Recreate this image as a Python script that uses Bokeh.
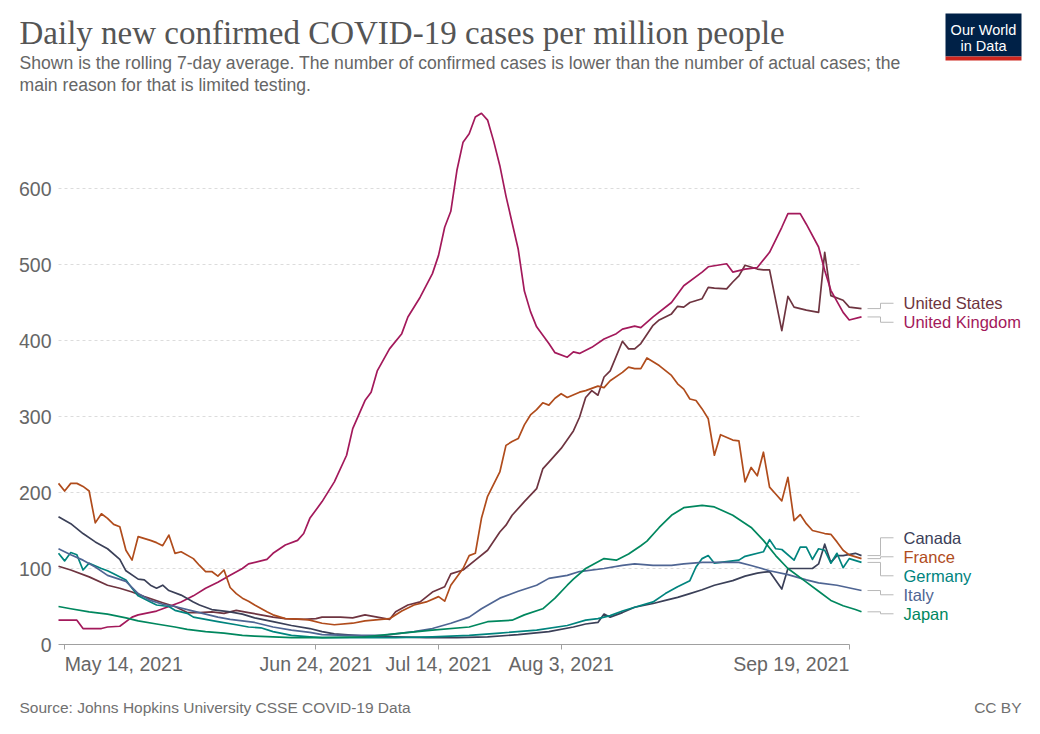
import pandas as pd
from bokeh.plotting import figure
from bokeh.models import Range1d, FixedTicker, CustomJSTickFormatter, ColumnDataSource
from bokeh.embed import file_html
from bokeh.resources import INLINE
from bokeh.core.properties import value

# ---------------- data ----------------
START = "2021-05-13"          # day 0 of the series below
LAST_DAY = 131                # Sep 21, 2021

tick_dates = ["2021-05-14", "2021-06-24", "2021-07-14", "2021-08-03", "2021-09-19"]
tick_labels = ["May 14, 2021", "Jun 24, 2021", "Jul 14, 2021", "Aug 3, 2021", "Sep 19, 2021"]
y_ticks = [0, 100, 200, 300, 400, 500, 600]

countries = ["United States", "United Kingdom", "Canada", "France", "Germany", "Italy", "Japan"]
colors = ["#6e3440", "#a3195b", "#3b4058", "#b04c1c", "#00847e", "#4f6593", "#00875e"]

us_days = [0, 2, 5, 8, 10, 12, 14, 17, 19, 21, 23, 25, 27, 29, 31, 33, 35, 37, 40, 42, 43, 46, 48, 50,
           54, 55, 57, 59, 61, 63, 64, 66, 68, 70, 72, 73, 74, 76, 78, 79, 80, 82, 84, 85, 86, 87, 88,
           89, 90, 92, 93, 94, 95, 97, 98, 100, 101, 102, 103, 105, 106, 107, 109, 110, 111, 112, 114,
           115, 116, 118, 119, 120, 122, 124, 125, 126, 128, 129, 131]
us_vals = [103, 98, 89, 78, 74, 69, 63, 55, 50, 42, 42, 43, 41, 45, 42, 39, 36, 34, 33, 34, 36, 36, 35, 39,
           33, 43, 52, 56, 69, 76, 93, 98, 111, 124, 148, 157, 170, 188, 205, 231, 240, 258, 281, 299, 325,
           334, 328, 352, 360, 399, 389, 389, 396, 420, 427, 435, 445, 444, 450, 455, 470, 469, 468, 477,
           485, 499, 494, 493, 493, 413, 458, 444, 440, 437, 516, 459, 453, 444, 442]

uk_days = [0, 3, 4, 7, 8, 10, 12, 13, 16, 18, 20, 22, 24, 26, 28, 30, 31, 34, 35, 37, 39, 40, 41, 43, 45,
           47, 48, 50, 51, 52, 54, 56, 57, 59, 61, 62, 63, 64, 65, 66, 67, 68, 69, 70, 71, 72, 73, 74, 75,
           76, 77, 78, 80, 81, 83, 84, 85, 87, 89, 91, 92, 94, 95, 97, 100, 102, 105, 106, 109, 110, 112,
           114, 116, 118, 119, 121, 122, 124, 125, 126, 128, 129, 131]
uk_vals = [32, 32, 21, 21, 23, 24, 36, 39, 44, 50, 56, 64, 74, 82, 91, 100, 106, 112, 120, 131, 137, 146,
           166, 188, 214, 249, 284, 321, 332, 360, 389, 409, 431, 457, 488, 512, 549, 570, 624, 661, 672,
           694, 699, 690, 662, 630, 590, 555, 520, 465, 438, 418, 396, 384, 378, 385, 383, 391, 402, 409,
           415, 419, 417, 431, 450, 472, 490, 497, 501, 490, 494, 496, 516, 549, 567, 567, 553, 523, 492,
           466, 437, 427, 431]

canada_days = [0, 2, 4, 6, 8, 10, 11, 13, 14, 15, 16, 17, 18, 20, 22, 23, 25, 28, 30, 32, 35, 38, 41, 43,
               45, 50, 55, 60, 65, 70, 75, 80, 84, 86, 88, 89, 90, 92, 94, 97, 99, 101, 103, 105, 107, 110,
               112, 114, 116, 118, 119, 121, 123, 124, 125, 126, 127, 128, 130, 131]
canada_vals = [168, 159, 146, 135, 126, 112, 97, 86, 85, 78, 74, 78, 71, 65, 56, 52, 46, 43, 40, 35, 30, 25,
               21, 17, 14, 11, 10, 9, 9, 10, 13, 17, 23, 27, 29, 40, 36, 42, 49, 54, 58, 62, 67, 72, 78, 84,
               90, 94, 96, 73, 100, 100, 100, 106, 132, 108, 117, 117, 120, 117]

france_days = [0, 1, 2, 3, 4, 5, 6, 7, 8, 9, 10, 11, 12, 13, 15, 16, 17, 18, 19, 20, 22, 23, 24, 25, 26, 27,
               28, 29, 30, 31, 32, 34, 35, 37, 40, 41, 43, 45, 48, 50, 54, 56, 58, 60, 62, 63, 64, 66, 67,
               68, 69, 70, 72, 73, 74, 75, 76, 77, 78, 79, 80, 81, 82, 83, 85, 86, 88, 89, 90, 92, 93, 94,
               95, 96, 98, 100, 101, 102, 103, 104, 105, 106, 107, 108, 110, 111, 112, 113, 114, 115, 116,
               117, 118, 119, 120, 121, 122, 123, 125, 126, 127, 128, 129, 131]
france_vals = [212, 202, 212, 212, 208, 202, 160, 172, 166, 158, 155, 124, 111, 142, 137, 134, 130, 144, 120,
               122, 113, 104, 96, 96, 90, 98, 75, 67, 61, 57, 52, 43, 39, 34, 33, 32, 28, 26, 28, 31, 34, 44,
               52, 56, 63, 57, 78, 100, 117, 120, 166, 195, 227, 262, 267, 271, 289, 302, 309, 318, 315, 324,
               330, 325, 332, 334, 340, 338, 347, 358, 365, 363, 363, 377, 367, 354, 343, 336, 323, 321, 310,
               297, 249, 276, 269, 268, 214, 233, 222, 253, 207, 198, 189, 220, 163, 171, 159, 150, 146, 145,
               135, 124, 118, 113]

germany_days = [0, 1, 2, 3, 4, 5, 7, 8, 9, 11, 12, 13, 15, 16, 18, 19, 21, 22, 24, 26, 29, 31, 33, 35, 38,
                41, 43, 50, 55, 61, 67, 72, 78, 83, 86, 88, 90, 92, 94, 97, 99, 101, 103, 104, 105, 106, 107,
                109, 111, 112, 115, 116, 117, 118, 120, 121, 122, 123, 124, 125, 126, 127, 128, 129, 131]
germany_vals = [120, 110, 121, 118, 98, 107, 100, 97, 93, 85, 74, 64, 56, 52, 50, 45, 41, 36, 33, 30, 26, 23,
                22, 17, 12, 10, 9, 9, 9, 10, 12, 15, 19, 25, 32, 34, 38, 44, 49, 56, 67, 76, 84, 102, 113, 117,
                107, 109, 111, 116, 122, 138, 126, 125, 111, 128, 128, 112, 126, 124, 107, 120, 101, 113, 108]

italy_days = [0, 2, 4, 6, 8, 11, 13, 15, 17, 19, 22, 24, 26, 28, 30, 32, 35, 38, 41, 43, 47, 53, 58, 61, 64,
              67, 69, 72, 75, 78, 80, 83, 85, 89, 92, 94, 97, 100, 102, 105, 108, 111, 113, 116, 119, 122,
              124, 127, 131]
italy_vals = [126, 118, 111, 102, 91, 83, 67, 58, 53, 50, 44, 40, 36, 33, 31, 29, 23, 19, 16, 13, 12, 12, 17,
              21, 28, 36, 47, 61, 70, 78, 87, 91, 96, 100, 104, 106, 104, 104, 106, 108, 108, 108, 104, 97,
              92, 85, 81, 78, 71]

japan_days = [0, 2, 5, 8, 11, 13, 16, 19, 21, 24, 27, 30, 32, 35, 38, 43, 50, 56, 61, 67, 70, 74, 76, 79, 81,
              83, 84, 86, 89, 91, 93, 95, 96, 98, 100, 102, 105, 107, 110, 113, 115, 117, 119, 122, 124, 126,
              128, 130, 131]
japan_vals = [50, 47, 43, 40, 35, 31, 27, 23, 20, 17, 15, 12, 11, 10, 9, 9, 10, 15, 19, 23, 30, 32, 39, 47, 61,
              78, 86, 100, 113, 111, 119, 130, 136, 154, 170, 180, 183, 181, 170, 154, 137, 117, 100, 82, 70,
              58, 51, 46, 43]

series_days = [us_days, uk_days, canada_days, france_days, germany_days, italy_days, japan_days]
series_vals = [us_vals, uk_vals, canada_vals, france_vals, germany_vals, italy_vals, japan_vals]

# ---------------- layout (page pixels) ----------------
W, H = 1040, 734
X0_PX = 58          # page x of day 0
Y0_PX = 644         # page y of value 0
DATA_PX = 803       # pixel width of day 0 .. LAST_DAY
PX_PER_UNIT = 0.76  # vertical pixels per case
DAY_MS = 86400000.0
FONT = "Liberation Sans"

t0 = pd.Timestamp(START)
x0 = t0.value / 1e6
ppd = DATA_PX / LAST_DAY


def X(px):
    return x0 + (px - X0_PX) / ppd * DAY_MS


def Y(py):
    return (Y0_PX - py) / PX_PER_UNIT


def ms(days):
    return [(t0 + pd.Timedelta(days=int(d))).value / 1e6 for d in days]


def px_to_ms(px):
    return px / ppd * DAY_MS


tick_ms = [pd.Timestamp(d).value / 1e6 for d in tick_dates]
x_last = x0 + LAST_DAY * DAY_MS

p = figure(width=W, height=H, x_axis_type="datetime", output_backend="svg", toolbar_location=None,
           x_range=Range1d(X(0), X(W)), y_range=Range1d(Y(H), Y(0)),
           min_border_left=0, min_border_right=0, min_border_top=0, min_border_bottom=0)
p.outline_line_color = None
p.background_fill_color = "white"
p.border_fill_color = "white"
p.xgrid.visible = False
p.ygrid.visible = False

# y axis drawn at the left edge of the data area
p.yaxis.fixed_location = x0
p.yaxis.ticker = FixedTicker(ticks=y_ticks)
p.yaxis.axis_line_color = None
p.yaxis.major_tick_line_color = None
p.yaxis.major_tick_out = 0
p.yaxis.major_tick_in = 0
p.yaxis.minor_tick_line_color = None
p.yaxis.major_label_text_font_size = "19.5px"
p.yaxis.major_label_text_color = "#666666"
p.yaxis.major_label_text_font = FONT
p.yaxis.major_label_standoff = 7

# x axis at zero (labels drawn separately to allow edge alignment)
p.xaxis.fixed_location = 0
p.xaxis.ticker = FixedTicker(ticks=tick_ms)
p.xaxis.formatter = CustomJSTickFormatter(code="return ''")
p.xaxis.axis_line_color = "#a0a0a0"
p.xaxis.major_tick_line_color = "#a0a0a0"
p.xaxis.major_tick_out = 5
p.xaxis.major_tick_in = 0
p.xaxis.minor_tick_line_color = None
p.xaxis.bounds = (x0, tick_ms[-1])


def add_text(text, px, py, size, color, font=FONT, align="left"):
    p.text(x=[X(px)], y=[Y(py)], text=[text], text_color=color, text_font=value(font),
           text_font_size=size, text_align=align, text_baseline="middle")


# x tick labels
for i, (tm, tl) in enumerate(zip(tick_ms, tick_labels)):
    align = "left" if i == 0 else ("right" if i == len(tick_ms) - 1 else "center")
    p.text(x=[tm], y=[Y(663)], text=[tl], text_color="#666666", text_font=value(FONT),
           text_font_size="19.5px", text_align=align, text_baseline="middle")

# dashed horizontal grid lines over the data span
grid_vals = y_ticks[1:]
p.segment(x0=[x0] * len(grid_vals), x1=[x_last] * len(grid_vals), y0=grid_vals, y1=grid_vals,
          line_color="#dcdcdc", line_dash="3 3", line_width=1)

# series
for d, v, c in zip(series_days, series_vals, colors):
    p.line(ms(d), v, line_color=c, line_width=1.7, line_join="round")


# labels at the right, dodged so they don't overlap
def dodge(vals, gap):
    order = sorted(range(len(vals)), key=lambda i: -vals[i])
    clusters = []
    for i in order:
        clusters.append([i])
        while len(clusters) > 1:
            a, b = clusters[-2], clusters[-1]
            ca = sum(vals[k] for k in a) / len(a)
            cb = sum(vals[k] for k in b) / len(b)
            bottom_a = ca - (len(a) - 1) * gap / 2
            top_b = cb + (len(b) - 1) * gap / 2
            if bottom_a - top_b < gap:
                clusters[-2:] = [a + b]
            else:
                break
    pos = [0.0] * len(vals)
    for cl in clusters:
        c = sum(vals[k] for k in cl) / len(cl)
        n = len(cl)
        for r, k in enumerate(cl):
            pos[k] = c + ((n - 1) / 2 - r) * gap
    return pos


end_vals = [v[-1] for v in series_vals]
label_y = dodge(end_vals, 19 / PX_PER_UNIT)

xs, ys = [], []
for ev, ly in zip(end_vals, label_y):
    xs.append([x_last + px_to_ms(6), x_last + px_to_ms(19), x_last + px_to_ms(19), x_last + px_to_ms(32)])
    ys.append([ev, ev, ly, ly])
p.multi_line(xs, ys, line_color="#b8b8b8", line_width=1)

lab_src = ColumnDataSource(dict(x=[x_last + px_to_ms(42)] * len(countries), y=label_y,
                                text=countries, color=colors))
p.text(x="x", y="y", text="text", text_color="color", source=lab_src,
       text_font=value(FONT), text_font_size="16.5px", text_baseline="middle", text_align="left")

# ---------------- header / footer ----------------
add_text("Daily new confirmed COVID-19 cases per million people", 19, 32, "33px", "#555555",
         font="Liberation Serif")
add_text("Shown is the rolling 7-day average. The number of confirmed cases is lower than the number of actual cases; the",
         19, 62, "17.6px", "#666666")
add_text("main reason for that is limited testing.", 19, 84.5, "17.6px", "#666666")
add_text("Source: Johns Hopkins University CSSE COVID-19 Data", 19, 706.5, "15.5px", "#707070")
add_text("CC BY", 1021, 706.5, "15.5px", "#707070", align="right")

# logo
p.quad(left=[X(945)], right=[X(1021)], top=[Y(13)], bottom=[Y(56)],
       fill_color="#002147", line_color=None)
p.quad(left=[X(945)], right=[X(1021)], top=[Y(56)], bottom=[Y(60)],
       fill_color="#ce261e", line_color=None)
add_text("Our World", 983, 29.5, "14.5px", "white", align="center")
add_text("in Data", 983, 45, "14.5px", "white", align="center")

open("out.html", "w").write(file_html(p, INLINE))
